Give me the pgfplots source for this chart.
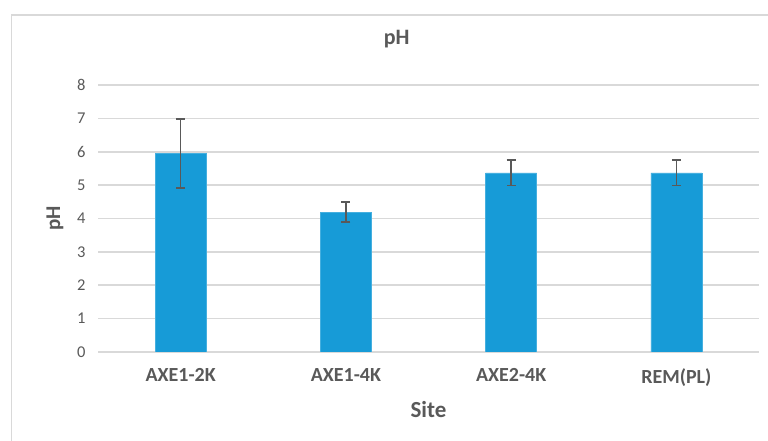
\documentclass[border=0pt]{standalone}
\usepackage{fontspec}
\setmainfont{Carlito}
\usepackage{pgfplots}
\pgfplotsset{compat=1.18}
\definecolor{barblue}{HTML}{179BD7}
\definecolor{txt}{HTML}{595959}
\definecolor{gridc}{HTML}{D9D9D9}
\begin{document}
\begin{tikzpicture}[x=1pt,y=1pt]
\useasboundingbox (0,0) rectangle (768,441);
\draw[gridc, line width=1.5pt] (11.5,0) -- (11.5,426) -- (768,426);
\begin{axis}[
  at={(98pt,89pt)}, anchor=south west,
  scale only axis, width=661pt, height=267pt,
  xmin=-0.5, xmax=3.5, ymin=0, ymax=8,
  ytick={0,1,2,3,4,5,6,7,8},
  xtick={0,1,2,3},
  xticklabels={AXE1-2K,AXE1-4K,AXE2-4K,REM(PL)},
  axis x line*=bottom,
  axis y line*=left,
  y axis line style={draw=none},
  x axis line style={gridc, line width=1.5pt, -},
  major tick length=0pt,
  ymajorgrids,
  grid style={gridc, line width=1.5pt},
  /pgf/number format/assume math mode=true,
  yticklabel style={font=\fontsize{16.5}{16.5}\selectfont, text=txt, xshift=-9pt},
  xticklabel style={font=\bfseries\fontsize{20}{20}\selectfont, text=txt, yshift=-13pt},
  xlabel={Site},
  ylabel={pH},
  title={pH},
  xlabel style={font=\bfseries\fontsize{23}{23}\selectfont, text=txt, at={(axis description cs:0.5,-0.217)}, anchor=center},
  ylabel style={font=\bfseries\fontsize{21}{21}\selectfont, text=txt, at={(axis description cs:-0.065,0.5)}, anchor=center, rotate=0},
  title style={font=\bfseries\fontsize{22}{22}\selectfont, text=txt, at={(axis description cs:0.452,1.15)}, anchor=center},
]
\addplot[ybar, bar width=51pt, fill=barblue, draw=barblue!80!white,
  error bars/.cd, y dir=both, y explicit,
  error bar style={txt, line width=1.6pt},
  error mark options={rotate=90, mark size=4.5pt, line width=1.6pt, txt}]
  table[x=x, y=y, y error=e] {
x y e
0 5.95 1.03
1 4.19 0.30
2 5.37 0.385
3 5.37 0.385
};
\end{axis}
\end{tikzpicture}
\end{document}
